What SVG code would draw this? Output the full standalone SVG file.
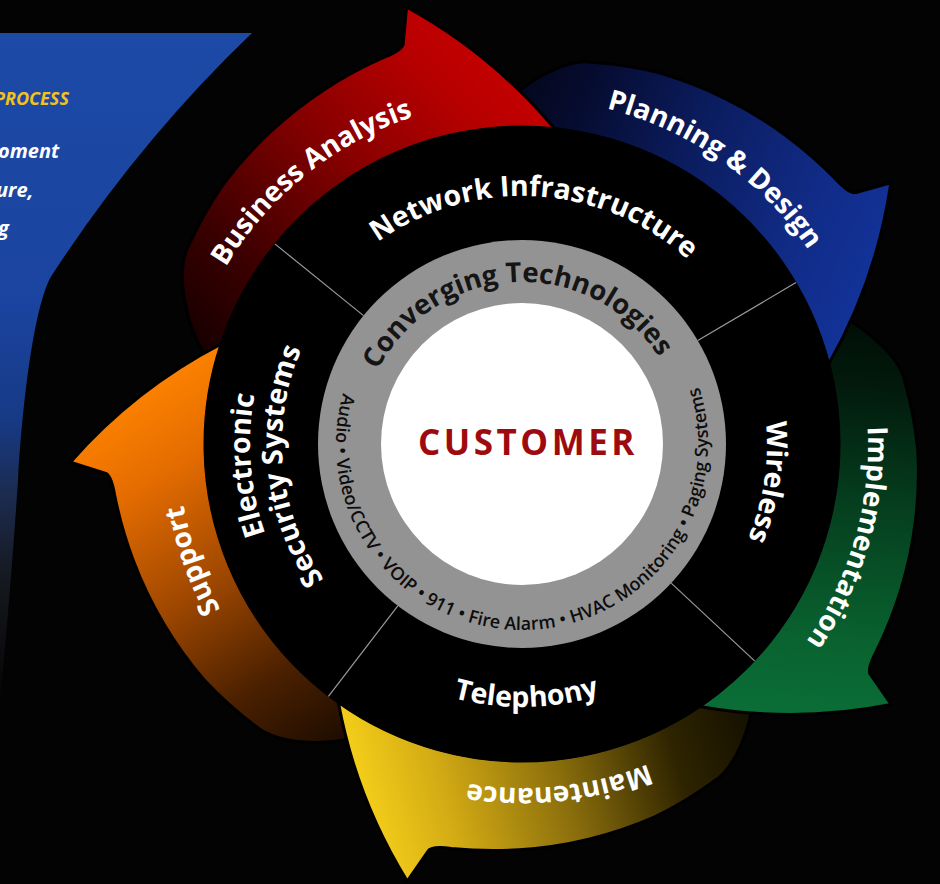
<svg xmlns="http://www.w3.org/2000/svg" width="940" height="884" viewBox="0 0 940 884">
  <defs>
    <style>
      text { font-family: "Open Sans", "Noto Sans", "DejaVu Sans", sans-serif; }
      .arrow { stroke: #000; stroke-width: 3; stroke-linejoin: round; }
      .alabel { font-size: 28px; font-weight: 700; fill: #fff; }
      .slabel { font-size: 28.5px; font-weight: 700; fill: #fff; }
      .divider { stroke: #9a9a9a; stroke-width: 1.2; }
      .note { font-size: 20px; font-weight: 700; font-style: italic; fill: #fff; }
    </style>

    <!-- one arrow of the cycle, centred on the wheel, head point at 12 o'clock; tail tapers onto the inner rim -->
    <path id="arrowShape" d="M -313.92 -44.12 A 317 317 0 0 1 0 -317 Q -69.94 -384.92 -159.77 -422.82 L -159.29 -386.46 Q -158.33 -380.36 -176.74 -370.56 A 408 408 0 0 0 -232.76 -332.41 A 403 403 0 0 0 -283.41 -283.41 A 398 398 0 0 0 -324.22 -227.02 A 392 392 0 0 0 -351.65 -163.98 C -364.3 -136.7 -345 -72 -313.92 -44.12 Z"/>

    <!-- tail (dark) to head (bright), in the arrow's own frame -->
    <linearGradient id="gRed" gradientUnits="userSpaceOnUse" x1="-370" y1="-40" x2="-80" y2="-400">
      <stop offset="0" stop-color="#080000"/>
      <stop offset="0.3" stop-color="#3c0000"/>
      <stop offset="0.6" stop-color="#850000"/>
      <stop offset="0.85" stop-color="#b50000"/>
      <stop offset="1" stop-color="#c60000"/>
    </linearGradient>
    <linearGradient id="gBlue" gradientUnits="userSpaceOnUse" x1="-370" y1="-40" x2="-80" y2="-400">
      <stop offset="0" stop-color="#02030c"/>
      <stop offset="0.25" stop-color="#060c30"/>
      <stop offset="0.5" stop-color="#0b1c5e"/>
      <stop offset="0.8" stop-color="#112c88"/>
      <stop offset="1" stop-color="#13339a"/>
    </linearGradient>
    <linearGradient id="gGreen" gradientUnits="userSpaceOnUse" x1="-370" y1="-40" x2="-80" y2="-400">
      <stop offset="0" stop-color="#000502"/>
      <stop offset="0.25" stop-color="#021a0c"/>
      <stop offset="0.5" stop-color="#053e1e"/>
      <stop offset="0.8" stop-color="#09622f"/>
      <stop offset="1" stop-color="#0b7038"/>
    </linearGradient>
    <linearGradient id="gYellow" gradientUnits="userSpaceOnUse" x1="-370" y1="-40" x2="-80" y2="-400">
      <stop offset="0" stop-color="#050400"/>
      <stop offset="0.3" stop-color="#2e2400"/>
      <stop offset="0.55" stop-color="#8a6e0c"/>
      <stop offset="0.8" stop-color="#d2aa14"/>
      <stop offset="1" stop-color="#f9d31b"/>
    </linearGradient>
    <linearGradient id="gOrange" gradientUnits="userSpaceOnUse" x1="-370" y1="-40" x2="-80" y2="-400">
      <stop offset="0" stop-color="#060200"/>
      <stop offset="0.3" stop-color="#4a2000"/>
      <stop offset="0.55" stop-color="#a04800"/>
      <stop offset="0.8" stop-color="#e46c00"/>
      <stop offset="1" stop-color="#ff8400"/>
    </linearGradient>

    <linearGradient id="gPanel" x1="0" y1="33" x2="0" y2="700" gradientUnits="userSpaceOnUse">
      <stop offset="0" stop-color="#1c4aa6"/>
      <stop offset="0.4" stop-color="#1a44a0"/>
      <stop offset="0.58" stop-color="#173a85"/>
      <stop offset="0.7" stop-color="#1c2a4c"/>
      <stop offset="0.82" stop-color="#15181e"/>
      <stop offset="1" stop-color="#050505"/>
    </linearGradient>

    <!-- wedge around the head of the first arrow, so it can sit above the last tail -->
    <clipPath id="headClip">
      <polygon points="0,0 -198.5,-491.4 -65.8,-536 72.4,-514.9"/>
    </clipPath>

    <!-- label baselines -->
    <path id="tpBus" d="M 181.02 496.48 A 345 345 0 0 1 647.04 122.46"/>
    <path id="tpPlan" d="M 375.77 130.42 A 346 346 0 0 1 866.68 474.16"/>
    <path id="tpImpl" d="M 770.89 203.65 A 346 346 0 0 1 605.7 779.72"/>
    <path id="tpMaint" d="M 836.75 582.82 A 344 344 0 0 1 244.41 647.17"/>
    <path id="tpSupp" d="M 401.53 766.21 A 344 344 0 0 1 225.6 269.41"/>
    <path id="tpNet" d="M 294.05 346.3 A 248 248 0 0 1 759.42 372.32"/>
    <path id="tpWire" d="M 731.45 316.9 A 245 245 0 0 1 683.54 628.2"/>
    <path id="tpTel" d="M 356.49 648.39 A 263 263 0 0 0 694.54 642.49"/>
    <path id="tpElec" d="M 327.66 634.31 A 272 272 0 0 1 300.84 285.66"/>
    <path id="tpSec" d="M 422.86 662.56 A 240 240 0 0 1 382.29 248.86"/>
    <path id="tpConv" d="M 361.33 423.28 A 162 162 0 0 1 680.07 408.52"/>
    <path id="tpRing" d="M 359.32 353.83 A 186 186 0 1 0 681.43 348.2"/>
  </defs>

  <rect width="940" height="884" fill="#030303"/>

  <!-- side panel -->
  <g id="side-panel">
    <path d="M 0 33 L 252 33 Q 140 140 52 275 C 37 298 24 380 18 480 C 14 540 8 620 0 700 Z" fill="url(#gPanel)"/>
    <text x="-6" y="105" style="font-size:18px;font-weight:700;font-style:italic;fill:#f3c21a">PROCESS</text>
    <text class="note" x="-2" y="158">oment</text>
    <text class="note" x="-4" y="197">ure,</text>
    <text class="note" x="-2" y="235">g</text>
  </g>

  <!-- process cycle -->
  <g id="business-analysis">
    <use href="#arrowShape" class="arrow" fill="url(#gRed)" transform="translate(522 444) rotate(5.9)"/>
    <text class="alabel"><textPath href="#tpBus" startOffset="50%" text-anchor="middle">Business Analysis</textPath></text>
  </g>
  <g id="support">
    <use href="#arrowShape" class="arrow" fill="url(#gOrange)" transform="translate(522 444) rotate(288.4)"/>
    <text class="alabel"><textPath href="#tpSupp" startOffset="50%" text-anchor="middle">Support</textPath></text>
  </g>
  <g id="maintenance">
    <use href="#arrowShape" class="arrow" fill="url(#gYellow)" transform="translate(522 444) rotate(215.4)"/>
    <text class="alabel"><textPath href="#tpMaint" startOffset="50%" text-anchor="middle">Maintenance</textPath></text>
  </g>
  <g id="implementation">
    <use href="#arrowShape" class="arrow" fill="url(#gGreen)" transform="translate(522 444) rotate(145.9)"/>
    <text class="alabel"><textPath href="#tpImpl" startOffset="50%" text-anchor="middle">Implementation</textPath></text>
  </g>
  <g id="planning-design">
    <use href="#arrowShape" class="arrow" fill="url(#gBlue)" transform="translate(522 444) rotate(75.4)"/>
    <text class="alabel"><textPath href="#tpPlan" startOffset="50%" text-anchor="middle">Planning &amp; Design</textPath></text>
  </g>
  <g id="business-analysis-head">
    <use href="#arrowShape" class="arrow" fill="url(#gRed)" transform="translate(522 444) rotate(5.9)" clip-path="url(#headClip)"/>
  </g>

  <!-- technology ring -->
  <g id="technology-ring">
    <circle cx="522" cy="444" r="318" fill="#000"/>
  </g>

  <g id="dividers">
    <line class="divider" x1="363.5" y1="315.6" x2="274.9" y2="243.9"/>
    <line class="divider" x1="697.8" y1="340.5" x2="796" y2="282.6"/>
    <line class="divider" x1="671.2" y1="583.1" x2="754.6" y2="660.9"/>
    <line class="divider" x1="397.8" y1="605.9" x2="328.4" y2="696.3"/>
  </g>

  <g id="network-infrastructure">
    <text class="slabel"><textPath href="#tpNet" startOffset="50%" text-anchor="middle">Network Infrastructure</textPath></text>
  </g>
  <g id="wireless">
    <text class="slabel"><textPath href="#tpWire" startOffset="50%" text-anchor="middle">Wireless</textPath></text>
  </g>
  <g id="telephony">
    <text class="slabel"><textPath href="#tpTel" startOffset="50%" text-anchor="middle">Telephony</textPath></text>
  </g>
  <g id="electronic-security-systems">
    <text class="slabel"><textPath href="#tpElec" startOffset="50%" text-anchor="middle">Electronic</textPath></text>
    <text class="slabel"><textPath href="#tpSec" startOffset="50%" text-anchor="middle">Security Systems</textPath></text>
  </g>

  <g id="converging-technologies">
    <circle cx="522" cy="444" r="204" fill="#939393"/>
    <text style="font-size:27.5px;font-weight:700;fill:#151515"><textPath href="#tpConv" startOffset="50%" text-anchor="middle">Converging Technologies</textPath></text>
    <text style="font-size:18px;font-weight:600;fill:#0d0d0d"><textPath href="#tpRing" startOffset="50%" text-anchor="middle">Audio • Video/CCTV • VOIP • 911 • Fire Alarm • HVAC Monitoring • Paging Systems</textPath></text>
  </g>

  <g id="customer">
    <circle cx="522" cy="444" r="141" fill="#fff"/>
    <text x="528" y="455" text-anchor="middle" style="font-size:35px;font-weight:700;fill:#9e0b0f;letter-spacing:3.5px">CUSTOMER</text>
  </g>
</svg>
